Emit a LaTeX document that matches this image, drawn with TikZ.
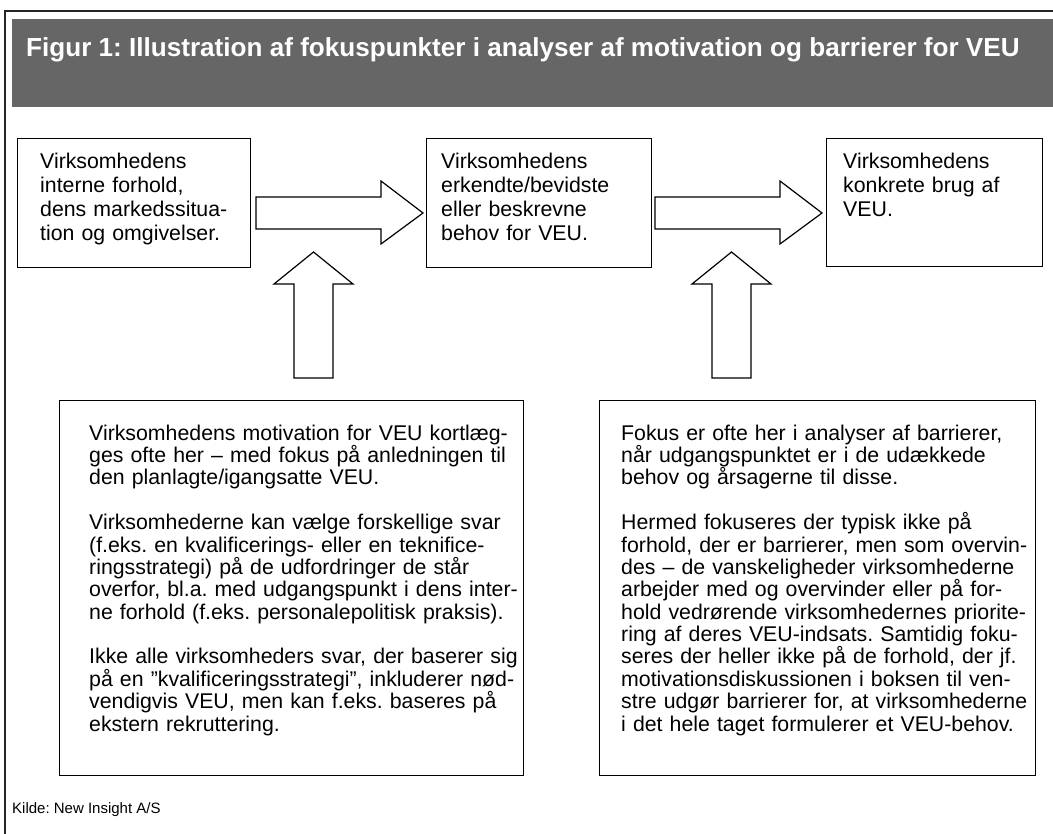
\documentclass[tikz,border=0pt]{standalone}
\usepackage{fontspec}
\setmainfont{Liberation Sans}
\usetikzlibrary{positioning}
\frenchspacing

\begin{document}
\begin{tikzpicture}[x=1pt,y=-1pt,
    box/.style={draw,line width=1.2pt,fill=white,inner sep=0pt,anchor=north west},
    txt/.style={anchor=base west,inner sep=0pt,text width=470pt,align=left,font=\fontsize{21.3}{22.4}\selectfont},
    blk/.style={draw,line width=1.2pt,fill=white,line join=miter}]
      \useasboundingbox (0,0) rectangle (1053,834);
      \draw[line width=1.5pt,black!85] (5,840)--(5,11)--(1060,11);
      \node[fill=black!60,inner sep=0pt,anchor=north west,minimum width=1045pt,minimum height=88pt] (bar) at (12,19) {};
      \node[anchor=base west,inner sep=0pt,text=white,font=\bfseries\fontsize{26.1}{30}\selectfont] (title) at (26,57) {Figur 1: Illustration af fokuspunkter i analyser af motivation og barrierer for VEU};
      \node[box,minimum width=233pt,minimum height=129pt] (intern) at (17,138) {};
      \node[box,minimum width=225pt,minimum height=129pt] (behov) at (426,138) {};
      \node[box,minimum width=216pt,minimum height=128pt] (brug) at (826,138) {};
      \node[box,minimum width=464pt,minimum height=375pt] (motiv) at (59,400) {};
      \node[box,minimum width=436pt,minimum height=375pt] (barr) at (599,400) {};
      \draw[blk] (256,197)--(381,197)--(381,181)--(423,213)--(381,244)--(381,229)--(256,229)--cycle;
      \draw[blk] (655,197)--(780,197)--(780,181)--(822,213)--(780,244)--(780,229)--(655,229)--cycle;
      \draw[blk] (294,378)--(294,284)--(274,284)--(313.5,252)--(353,284)--(333,284)--(333,378)--cycle;
      \draw[blk] (712,378)--(712,284)--(692,284)--(731.5,252)--(771,284)--(751,284)--(751,378)--cycle;
      \node[txt,font=\fontsize{21.3}{23.7}\selectfont] (intern-t) at (40,169) {Virksomhedens\\interne forhold,\\dens markedssitua-\\tion og omgivelser.};
      \node[txt,font=\fontsize{21.3}{23.7}\selectfont] (behov-t) at (441,169) {Virksomhedens\\erkendte/bevidste\\eller beskrevne\\behov for VEU.};
      \node[txt,font=\fontsize{21.3}{23.7}\selectfont] (brug-t) at (843,169) {Virksomhedens\\konkrete brug af\\VEU.};
      \node[txt] (motiv-t) at (89,440) {Virksomhedens motivation for VEU kortlæg-\\
        ges ofte her – med fokus på anledningen til\\
        den planlagte/igangsatte VEU.\\[22.4pt]
        Virksomhederne kan vælge forskellige svar\\
        (f.eks. en kvalificerings- eller en teknifice-\\
        ringsstrategi) på de udfordringer de står\\
        overfor, bl.a. med udgangspunkt i dens inter-\\
        ne forhold (f.eks. personalepolitisk praksis).\\[22.4pt]
        Ikke alle virksomheders svar, der baserer sig\\
        på en ”kvalificeringsstrategi”, inkluderer nød-\\
        vendigvis VEU, men kan f.eks. baseres på\\
        ekstern rekruttering.};
      \node[txt] (barr-t) at (621,440) {Fokus er ofte her i analyser af barrierer,\\
        når udgangspunktet er i de udækkede\\
        behov og årsagerne til disse.\\[22.4pt]
        Hermed fokuseres der typisk ikke på\\
        forhold, der er barrierer, men som overvin-\\
        des – de vanskeligheder virksomhederne\\
        arbejder med og overvinder eller på for-\\
        hold vedrørende virksomhedernes priorite-\\
        ring af deres VEU-indsats. Samtidig foku-\\
        seres der heller ikke på de forhold, der jf.\\
        motivationsdiskussionen i boksen til ven-\\
        stre udgør barrierer for, at virksomhederne\\
        i det hele taget formulerer et VEU-behov.};
      \node[anchor=base west,inner sep=0pt,font=\fontsize{15}{18}\selectfont] (kilde) at (12,813) {Kilde: New Insight A/S};
\end{tikzpicture}
\end{document}
